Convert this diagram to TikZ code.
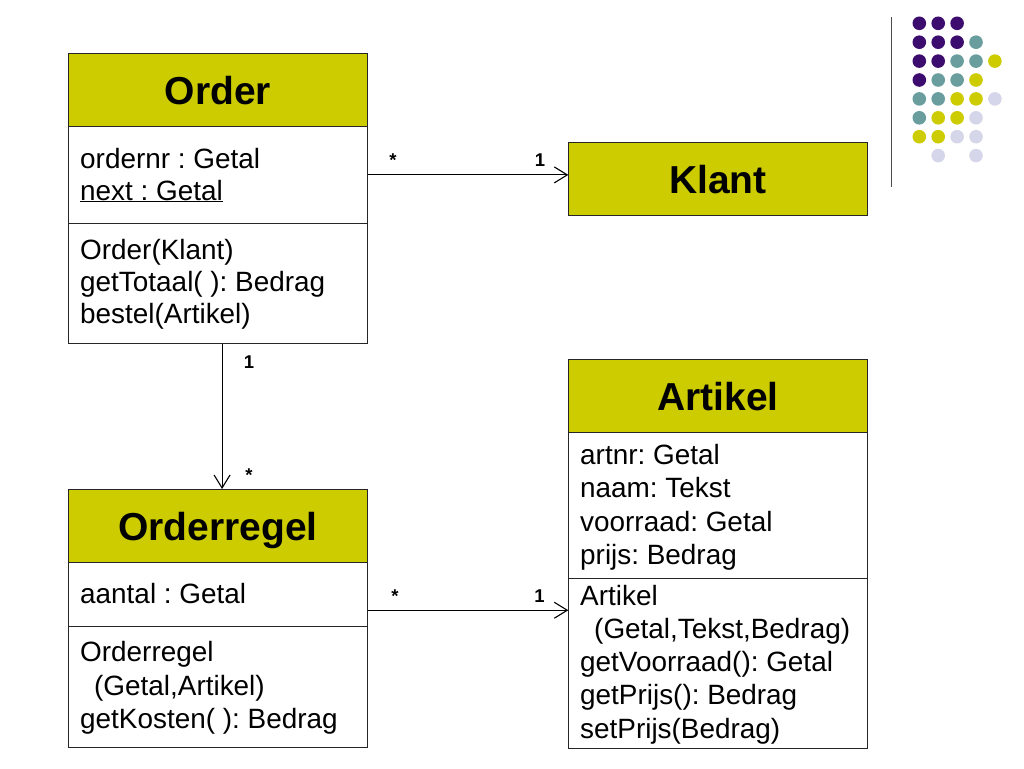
\documentclass[tikz,border=0pt]{standalone}
\usepackage{fontspec}
\setmainfont{Liberation Sans}
\usetikzlibrary{arrows.meta,calc}
\definecolor{hdr}{RGB}{204,204,0}
\definecolor{dpurple}{RGB}{60,12,110}
\definecolor{dteal}{RGB}{106,158,158}
\definecolor{dyellow}{RGB}{204,204,0}
\definecolor{dlav}{RGB}{214,214,234}
\frenchspacing
\begin{document}
\begin{tikzpicture}[x=1pt,y=-1pt,
  box/.style={draw=black!85, line width=1.1pt, rectangle, inner sep=0pt, minimum width=298.4pt, anchor=north west},
  head/.style={box, fill=hdr, font=\fontsize{39}{45}\selectfont\bfseries, text height=29pt, text depth=0pt},
  txt/.style={anchor=base west, inner sep=0pt, font=\fontsize{27.9}{33}\selectfont},
  mult/.style={anchor=base, inner sep=0pt, font=\fontsize{18.5}{20}\selectfont\bfseries},
  arr/.style={line width=1.1pt, -{Straight Barb[length=13pt,width=16pt,line width=1.1pt]}}]
\useasboundingbox (0,0) rectangle (1024,768);

% Order
\node[head, minimum height=72.7pt] (oH) at (68.3,53.3) {Order};
\node[box, minimum height=96.7pt] (oA) at (68.3,126) {};
\node[box, minimum height=120.6pt] (oM) at (68.3,222.7) {};
\node[txt] (o1) at (80,168) {ordernr : Getal};
\node[txt] (o2) at (80,200) {\underline{next : Getal}};
\node[txt] (o3) at (80,259) {Order(Klant)};
\node[txt] (o4) at (80,291) {getTotaal( ): Bedrag};
\node[txt] (o5) at (80,323) {bestel(Artikel)};

% Klant
\node[head, minimum height=73pt] (kH) at (568.3,142) {Klant};

% Artikel
\node[head, minimum height=73pt] (aH) at (568.3,359.3) {Artikel};
\node[box, minimum height=145.4pt] (aA) at (568.3,432.3) {};
\node[box, minimum height=170.5pt] (aM) at (568.3,577.7) {};
\node[txt] (a1) at (580,464.5) {artnr: Getal};
\node[txt] (a2) at (580,497.8) {naam: Tekst};
\node[txt] (a3) at (580,531.1) {voorraad: Getal};
\node[txt] (a4) at (580,564.4) {prijs: Bedrag};
\node[txt] (a5) at (580,605) {Artikel};
\node[txt] (a6) at (594,638.3) {(Getal,Tekst,Bedrag)};
\node[txt] (a7) at (580,671.6) {getVoorraad(): Getal};
\node[txt] (a8) at (580,704.9) {getPrijs(): Bedrag};
\node[txt] (a9) at (580,738.2) {setPrijs(Bedrag)};

% Orderregel
\node[head, minimum height=72.7pt] (rH) at (68.3,489) {Orderregel};
\node[box, minimum height=64pt] (rA) at (68.3,561.7) {};
\node[box, minimum height=121pt] (rM) at (68.3,625.7) {};
\node[txt] (r1) at (80,603.3) {aantal : Getal};
\node[txt] (r2) at (80,661.7) {Orderregel};
\node[txt] (r3) at (94,695) {(Getal,Artikel)};
\node[txt] (r4) at (80,728.3) {getKosten( ): Bedrag};

% connectors
\draw[arr] (oA.east) -- (kH.west |- oA.east);
\draw[arr] ([xshift=4pt]oM.south) -- ([xshift=4pt]oM.south |- rH.north);
\draw[arr] ([yshift=-16pt]rA.east) -- ([yshift=-16pt]rA.east -| aM.west);

% multiplicities
\node[mult] (m1) at (393,166.7) {*};
\node[mult] (m2) at (540,166.7) {1};
\node[mult] (m3) at (249,368) {1};
\node[mult] (m4) at (249,481) {*};
\node[mult] (m5) at (395,602) {*};
\node[mult] (m6) at (539.5,602) {1};

% decoration
\draw[black!70, line width=1.4pt] (891.7,17) -- (891.7,187);
\foreach \c/\r/\col in {0/0/dpurple,1/0/dpurple,2/0/dpurple,
  0/1/dpurple,1/1/dpurple,2/1/dpurple,3/1/dteal,
  0/2/dpurple,1/2/dpurple,2/2/dteal,3/2/dteal,4/2/dyellow,
  0/3/dpurple,1/3/dteal,2/3/dteal,3/3/dyellow,
  0/4/dteal,1/4/dteal,2/4/dyellow,3/4/dyellow,4/4/dlav,
  0/5/dteal,1/5/dyellow,2/5/dyellow,3/5/dlav,
  0/6/dyellow,1/6/dyellow,2/6/dlav,3/6/dlav,
  1/7/dlav,3/7/dlav}
  \fill[\col] (919.3+18.9*\c, 23.3+18.9*\r) circle[radius=6.8pt];
\end{tikzpicture}
\end{document}
